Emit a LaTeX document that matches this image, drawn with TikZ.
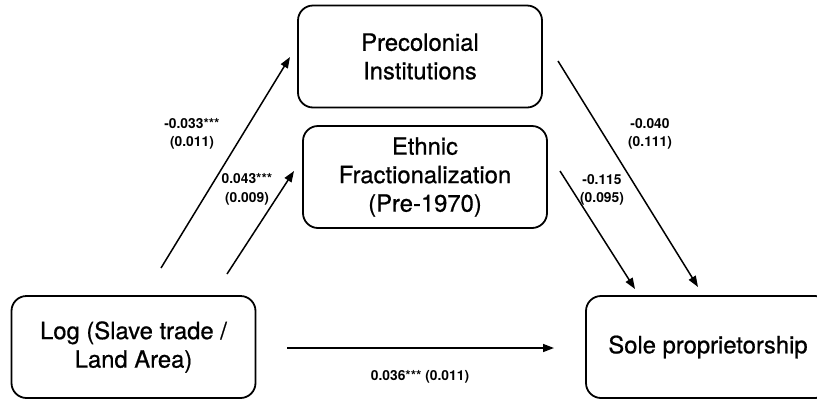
\documentclass[tikz,border=0pt]{standalone}
\usepackage{fontspec}
\setmainfont{TeX Gyre Heros}
\newfontfamily\boxfont[FakeBold=0.7]{TeX Gyre Heros}
\usetikzlibrary{arrows.meta}
\begin{document}
\begin{tikzpicture}[x=1pt,y=-1pt,
  box/.style={draw,line width=1.8pt,rounded corners=15pt,minimum width=244pt,minimum height=102pt,
    align=center,font=\boxfont\fontsize{23.8}{28.5}\selectfont,inner sep=0pt},
  coef/.style={align=center,font=\fontsize{13.8}{18.5}\selectfont\bfseries,inner sep=0pt},
  arr/.style={line width=1.5pt,-{Triangle[length=11pt,width=8pt]}}]
\useasboundingbox (0,0) rectangle (817,400);
\node[box] (prec) at (420,56.5) {Precolonial\\Institutions};
\node[box] (eth) at (425,177) {Ethnic\\Fractionalization\\(Pre-1970)};
\node[box] (log) at (133.5,347) {Log (Slave trade /\\Land Area)};
\node[box] (sole) at (708,347) {Sole proprietorship};
\coordinate (a1s) at (161,268);
\coordinate (a1e) at (290,57);
\coordinate (a2s) at (227,274);
\coordinate (a2e) at (294,171);
\coordinate (a3s) at (558,61);
\coordinate (a3e) at (698,287);
\coordinate (a4s) at (560,171);
\coordinate (a4e) at (635,289);
\coordinate (a5s) at (287,348);
\coordinate (a5e) at (554,348);
\draw[arr] (a1s) -- (a1e);
\draw[arr] (a2s) -- (a2e);
\draw[arr] (a3s) -- (a3e);
\draw[arr] (a4s) -- (a4e);
\draw[arr] (a5s) -- (a5e);
\node[coef] (c1) at (192,134) {-0.033***\\(0.011)};
\node[coef] (c2) at (247,189.5) {0.043***\\(0.009)};
\node[coef] (c3) at (650,134) {-0.040\\(0.111)};
\node[coef] (c4) at (602,190) {-0.115\\(0.095)};
\node[coef] (c5) at (420,377) {0.036*** (0.011)};
\end{tikzpicture}
\end{document}
